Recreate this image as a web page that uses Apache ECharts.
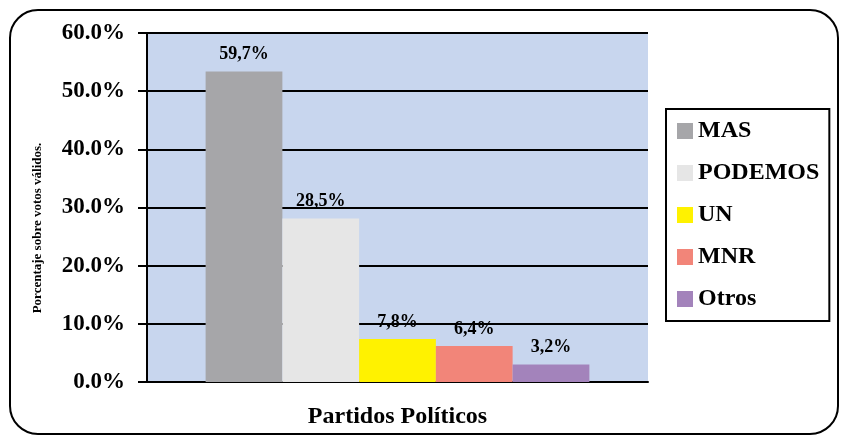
<!DOCTYPE html>
<html>
<head>
<meta charset="utf-8">
<script src="https://cdn.jsdelivr.net/npm/echarts@6/dist/echarts.min.js"></script>
<style>
  html, body { margin: 0; padding: 0; background: #fff; }
  #main { width: 842px; height: 436px; }
</style>
</head>
<body>
<div id="main"></div>
<script>
const partidos = ['MAS', 'PODEMOS', 'UN', 'MNR', 'Otros']
const valores = [53.4, 28.1, 7.4, 6.2, 3.0]
const etiquetas = ['59,7%', '28,5%', '7,8%', '6,4%', '3,2%']
const colores = ['#a6a6a9', '#e6e6e6', '#fff200', '#f28579', '#a383bb']

const fuente = '"Liberation Serif", "Times New Roman", serif'
const chart = echarts.init(document.getElementById('main'))

const series = partidos.map((p, i) => ({
  name: p,
  type: 'bar',
  data: [valores[i]],
  barGap: '0%',
  barCategoryGap: '23.4%',
  itemStyle: { color: colores[i] },
  label: {
    show: true,
    position: 'top',
    distance: 8,
    formatter: () => etiquetas[i],
    fontFamily: fuente,
    fontWeight: 'bold',
    fontSize: 18,
    color: '#000'
  }
}))

const option = {
  animation: false,
  grid: {
    left: 147,
    right: 194,
    top: 33,
    bottom: 54,
    show: true,
    backgroundColor: '#c8d6ee',
    borderWidth: 0
  },
  legend: {
    orient: 'vertical',
    left: 666,
    top: 109,
    padding: [10, 10, 10, 11],
    itemGap: 18,
    itemWidth: 16,
    itemHeight: 16,
    icon: 'rect',
    borderColor: '#000',
    borderWidth: 2,
    textStyle: { fontFamily: fuente, fontWeight: 'bold', fontSize: 24, color: '#000' },
    data: partidos
  },
  xAxis: {
    type: 'category',
    data: [''],
    name: 'Partidos Políticos',
    nameLocation: 'middle',
    nameGap: 23,
    nameTextStyle: { fontFamily: fuente, fontWeight: 'bold', fontSize: 24, color: '#000' },
    axisLine: { lineStyle: { color: '#000', width: 2 } },
    axisTick: { show: false },
    axisLabel: { show: false }
  },
  yAxis: {
    type: 'value',
    min: 0,
    max: 60,
    interval: 10,
    axisLine: { show: true, lineStyle: { color: '#000', width: 2 } },
    axisTick: { show: true, length: 9, lineStyle: { color: '#000', width: 2 } },
    axisLabel: {
      margin: 22,
      formatter: v => v.toFixed(1) + '%',
      fontFamily: fuente,
      fontWeight: 'bold',
      fontSize: 23,
      color: '#000'
    },
    splitLine: { lineStyle: { color: '#000', width: 2 } }
  },
  graphic: [
    {
      type: 'rect',
      shape: { x: 10, y: 10, width: 828, height: 424, r: 28 },
      style: { fill: 'none', stroke: '#000', lineWidth: 2 },
      silent: true
    },
    {
      type: 'text',
      x: 38,
      y: 228,
      rotation: Math.PI / 2,
      style: {
        text: 'Porcentaje sobre votos válidos.',
        font: 'bold 13px ' + fuente,
        fill: '#000',
        textAlign: 'center',
        textVerticalAlign: 'middle'
      }
    }
  ],
  series: series
}
chart.setOption(option)
</script>
</body>
</html>
